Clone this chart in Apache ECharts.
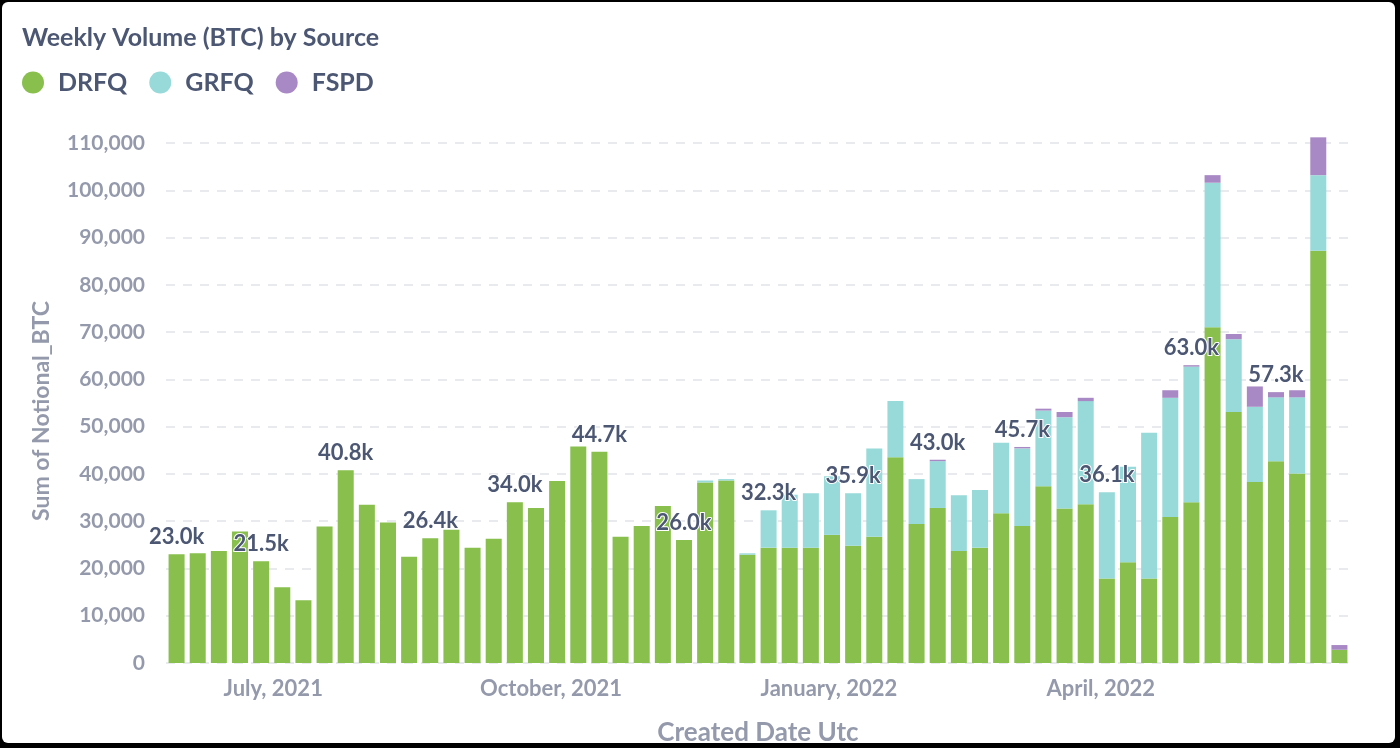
<!DOCTYPE html>
<html>
<head>
<meta charset="utf-8">
<script src="https://cdn.jsdelivr.net/npm/echarts@6.0.0/dist/echarts.min.js"></script>
<style>
  html, body { margin: 0; padding: 0; background: #000; }
  #frame { position: absolute; left: 0; top: 0; width: 1400px; height: 748px; background: #000; }
  #card { position: absolute; left: 2px; top: 2px; width: 1393px; height: 741px; background: #fff; border-radius: 6px; }
  #chart { position: absolute; left: 0; top: 0; width: 1400px; height: 748px; }
</style>
</head>
<body>
<div id="frame"><div id="card"></div><div id="chart"></div></div>
<script>
// Week start dates (categories)
const weeks = [
  '2021-05-30','2021-06-06','2021-06-13','2021-06-20','2021-06-27','2021-07-04','2021-07-11','2021-07-18',
  '2021-07-25','2021-08-01','2021-08-08','2021-08-15','2021-08-22','2021-08-29','2021-09-05','2021-09-12',
  '2021-09-19','2021-09-26','2021-10-03','2021-10-10','2021-10-17','2021-10-24','2021-10-31','2021-11-07',
  '2021-11-14','2021-11-21','2021-11-28','2021-12-05','2021-12-12','2021-12-19','2021-12-26','2022-01-02',
  '2022-01-09','2022-01-16','2022-01-23','2022-01-30','2022-02-06','2022-02-13','2022-02-20','2022-02-27',
  '2022-03-06','2022-03-13','2022-03-20','2022-03-27','2022-04-03','2022-04-10','2022-04-17','2022-04-24',
  '2022-05-01','2022-05-08','2022-05-15','2022-05-22','2022-05-29','2022-06-05','2022-06-12','2022-06-19'
];
// Sum of Notional_BTC per source
const drfq = [
  23000,23200,23700,27800,21500,16000,13300,28900,
  40800,33500,29700,22500,26400,28200,24400,26300,
  34000,32800,38500,45800,44700,26700,29000,33200,
  26000,38200,38600,22900,24400,24400,24400,27100,
  24800,26700,43500,29400,32800,23700,24400,31700,
  29000,37400,32700,33600,17900,21300,17900,30900,
  34000,71000,53100,38300,42700,40100,87200,2800
];
const grfq = [
  0,0,0,0,0,0,0,0,
  0,0,0,0,0,0,0,0,
  0,0,0,0,0,0,0,0,
  0,400,300,300,7900,11200,11500,12400,
  11100,18700,11900,9500,9900,11800,12200,14900,
  16400,16000,19300,21800,18200,20200,30800,25200,
  28700,30600,15400,15900,13500,16100,16000,0
];
const fspd = [
  0,0,0,0,0,0,0,0,
  0,0,0,0,0,0,0,0,
  0,0,0,0,0,0,0,0,
  0,0,0,0,0,0,0,0,
  0,0,0,0,300,0,0,0,
  300,400,1100,700,0,0,0,1600,
  300,1600,1100,4300,1100,1500,8000,1000
];
// X tick labels (quarter starts)
const xTickDates = ['2021-07-01', '2021-10-01', '2022-01-01', '2022-04-01'];
const xTickLabels = ['July, 2021', 'October, 2021', 'January, 2022', 'April, 2022'];
const yTicks = [0,10000,20000,30000,40000,50000,60000,70000,80000,90000,100000,110000];
const labelEvery = 4;

const totals = drfq.map((v, i) => v + grfq[i] + fspd[i]);
const DAY = 86400000;
const toTs = s => Date.parse(s + 'T00:00:00Z');
const firstWeek = toTs(weeks[0]);
// day offsets from the first week start (a linear date scale in days)
const dayOf = s => Math.round((toTs(s) - firstWeek) / DAY);
const lastDay = dayOf(weeks[weeks.length - 1]);
const xTickDays = xTickDates.map(dayOf);

const textDark = '#4c5773';
const textMid = '#949aab';
const font = 'Lato';

const chart = echarts.init(document.getElementById('chart'), null, { renderer: 'canvas' });
chart.setOption({
  animation: false,
  backgroundColor: 'transparent',
  title: {
    text: 'Weekly Volume (BTC) by Source',
    left: 22, top: 25, padding: 0,
    textStyle: { fontFamily: font, fontSize: 25, fontWeight: 'bold', color: textDark }
  },
  legend: {
    left: 22, top: 70, padding: 0,
    icon: 'circle', itemWidth: 22, itemHeight: 22, itemGap: 22,
    data: ['DRFQ', 'GRFQ', 'FSPD'],
    textStyle: { fontFamily: font, fontSize: 25, fontWeight: 'bold', color: textDark, padding: [0, 0, 0, 9] }
  },
  grid: { left: 166, right: 50, top: 143, bottom: 85, containLabel: false, outerBoundsMode: 'none' },
  xAxis: [
    {
      type: 'category',
      data: weeks,
      boundaryGap: true,
      position: 'bottom',
      axisLine: { show: false },
      axisTick: { show: false },
      axisLabel: { show: false },
      splitLine: { show: false }
    },
    {
      type: 'value',
      position: 'bottom',
      offset: 0,
      min: -3.5,
      max: lastDay + 3.5,
      name: 'Created Date Utc',
      nameLocation: 'middle',
      nameGap: 57,
      nameTextStyle: { fontFamily: font, fontSize: 26, fontWeight: 'bold', color: textMid },
      axisLine: { show: false },
      axisTick: { show: false },
      splitLine: { show: false },
      axisLabel: {
        margin: 15,
        customValues: xTickDays,
        fontFamily: font, fontSize: 22, fontWeight: 'bold', color: textMid,
        formatter: function (value) {
          const k = xTickDays.indexOf(Math.round(value));
          return k >= 0 ? xTickLabels[k] : '';
        }
      }
    }
  ],
  yAxis: {
    type: 'value',
    min: yTicks[0],
    max: yTicks[yTicks.length - 1],
    interval: yTicks[1] - yTicks[0],
    name: 'Sum of Notional_BTC',
    nameLocation: 'middle',
    nameGap: 113,
    nameTextStyle: { fontFamily: font, fontSize: 23, fontWeight: 'bold', color: textMid, padding: [0, 16, 0, 0] },
    axisLine: { show: false },
    axisTick: { show: false },
    axisLabel: {
      margin: 21,
      fontFamily: font, fontSize: 21, fontWeight: 'bold', color: textMid,
      formatter: v => v.toLocaleString('en-US')
    },
    splitLine: { show: true, lineStyle: { color: '#e8eaed', width: 2, type: [9, 8] } }
  },
  series: [
    {
      name: 'DRFQ', type: 'bar', stack: 'total', barWidth: 16, clip: false, xAxisIndex: 0,
      itemStyle: { color: '#88bf4d' },
      data: drfq
    },
    {
      name: 'GRFQ', type: 'bar', stack: 'total', barWidth: 16, clip: false, xAxisIndex: 0,
      itemStyle: { color: '#98d9d9' },
      data: grfq
    },
    {
      name: 'FSPD', type: 'bar', stack: 'total', barWidth: 16, clip: false, xAxisIndex: 0,
      itemStyle: { color: '#a989c5' },
      label: {
        show: false, position: 'top', distance: 6,
        fontFamily: font, fontSize: 22, fontWeight: 'bold', color: textDark,
        textBorderColor: '#ffffff', textBorderWidth: 2,
        formatter: p => (totals[p.dataIndex] / 1000).toFixed(1) + 'k'
      },
      labelLayout: { hideOverlap: false },
      data: fspd.map((v, i) => ({ value: v, label: { show: i % labelEvery === 0 } }))
    }
  ]
});
</script>
</body>
</html>
